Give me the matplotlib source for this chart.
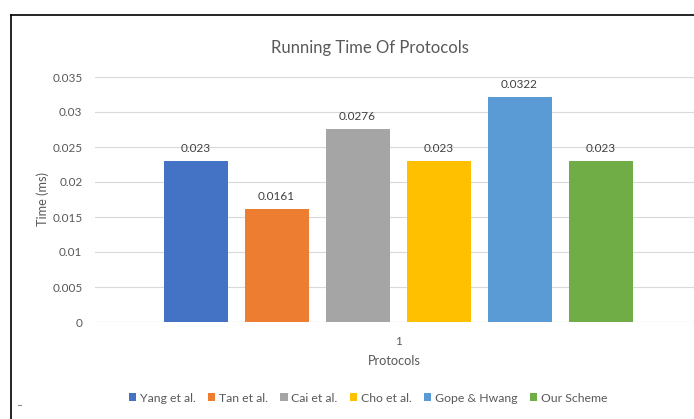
import matplotlib
matplotlib.use("Agg")
import matplotlib.pyplot as plt
from matplotlib.lines import Line2D

categories = ["1"]
series_names = ["Yang et al.", "Tan et al.", "Cai et al.", "Cho et al.", "Gope & Hwang", "Our Scheme"]
series_values = [0.023, 0.0161, 0.0276, 0.023, 0.0322, 0.023]
value_labels = ["0.023", "0.0161", "0.0276", "0.023", "0.0322", "0.023"]
colors = ["#4472C4", "#ED7D31", "#A5A5A5", "#FFC000", "#5B9BD5", "#70AD47"]
yticks = [0, 0.005, 0.01, 0.015, 0.02, 0.025, 0.03, 0.035]
ytick_labels = ["0", "0.005", "0.01", "0.015", "0.02", "0.025", "0.03", "0.035"]

plt.rcParams['font.family'] = ['Lato', 'DejaVu Sans']
txt = "#595959"

W, H = 694, 419
fig = plt.figure(figsize=(W/100, H/100), dpi=100)
ax_left, ax_right, ax_top, ax_bot = 95, 694, 77, 322
ax = fig.add_axes([ax_left/W, (H-ax_bot)/H, (ax_right-ax_left)/W, (ax_bot-ax_top)/H])

n = len(series_names)
slot = 81.0
bw = 64/slot
center_px = 398
for i, (name, v, c, lab) in enumerate(zip(series_names, series_values, colors, value_labels)):
    x = 0 + (i - (n-1)/2)
    ax.bar(x, v, width=bw, color=c, label=name, zorder=3)
    ax.annotate(lab, (x, v), xytext=(0, 5), textcoords="offset points",
                ha="center", va="bottom", fontsize=8.5, color="#404040")

ax.set_xlim((ax_left-center_px)/slot, (ax_right-center_px)/slot)
ax.set_ylim(0, 0.035)
ax.set_yticks(yticks)
ax.set_yticklabels(ytick_labels, color=txt, fontsize=8.5)
ax.set_xticks([0])
ax.set_xticklabels(categories, color=txt, fontsize=8.5)
ax.tick_params(length=0)
ax.tick_params(axis='x', pad=10)
ax.tick_params(axis='y', pad=9)
ax.grid(axis='y', color="#D9D9D9", lw=0.8, zorder=0)
for s in ax.spines.values():
    s.set_visible(False)
ax.axhline(0, color="#D9D9D9", lw=0.8, zorder=2)

ax.set_ylabel("Time (ms)", color=txt, fontsize=9.2, labelpad=2)
ax.set_xlabel("Protocols", color=txt, fontsize=9.2, labelpad=6)

fig.text(370/W, 1 - 48/H, "Running Time Of Protocols", ha="center", va="center",
         fontsize=12, color=txt)

leg = fig.legend(*ax.get_legend_handles_labels(), loc="center", bbox_to_anchor=(368/W, 1 - 398/H),
                 ncol=6, frameon=False, fontsize=8.8, handlelength=0.6, handleheight=0.6,
                 handletextpad=0.3, columnspacing=1.0)
for t in leg.get_texts():
    t.set_color(txt)

# outer frame (left and top edges visible)
fig.add_artist(Line2D([11/W, 11/W], [0, 1 - 15/H], transform=fig.transFigure, color="black", lw=1.2))
fig.add_artist(Line2D([11/W, 1], [1 - 15/H, 1 - 15/H], transform=fig.transFigure, color="black", lw=1.2))
fig.add_artist(Line2D([18/W, 21/W], [1 - 405/H, 1 - 405/H], transform=fig.transFigure, color="#8a8aa0", lw=0.8))

fig.savefig("out.png", dpi=100)
